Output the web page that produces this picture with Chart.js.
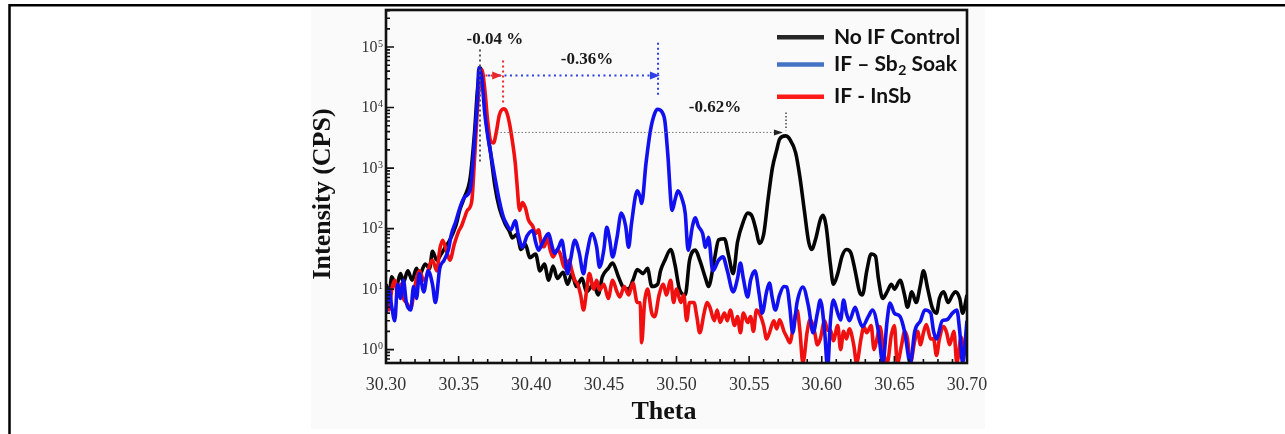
<!DOCTYPE html>
<html>
<head>
<meta charset="utf-8">
<script src="https://cdn.jsdelivr.net/npm/chart.js@4.4.1/dist/chart.umd.min.js"></script>
<style>
  html, body { margin: 0; padding: 0; background: #fff; }
  canvas { display: block; }
</style>
</head>
<body>
<canvas id="xrdChart" width="1285" height="434"></canvas>
<script>
// No IF Control (black)
const controlTheta = [30.300, 30.302, 30.304, 30.307, 30.310, 30.312, 30.315, 30.318, 30.321, 30.323,
  30.327, 30.330, 30.332, 30.335, 30.338, 30.341, 30.344, 30.348, 30.351, 30.354,
  30.358, 30.361, 30.363, 30.365, 30.367, 30.369, 30.372, 30.375, 30.378, 30.382,
  30.385, 30.387, 30.390, 30.393, 30.396, 30.399, 30.403, 30.406, 30.409, 30.412,
  30.415, 30.418, 30.422, 30.425, 30.428, 30.431, 30.435, 30.438, 30.443, 30.446,
  30.449, 30.453, 30.456, 30.460, 30.463, 30.467, 30.470, 30.473, 30.477, 30.480,
  30.483, 30.487, 30.489, 30.492, 30.496, 30.499, 30.502, 30.506, 30.509, 30.513,
  30.516, 30.520, 30.522, 30.526, 30.529, 30.533, 30.536, 30.539, 30.542, 30.546,
  30.549, 30.552, 30.555, 30.557, 30.560, 30.563, 30.566, 30.569, 30.571, 30.575,
  30.578, 30.582, 30.585, 30.588, 30.591, 30.593, 30.596, 30.599, 30.601, 30.603,
  30.606, 30.608, 30.611, 30.614, 30.617, 30.620, 30.623, 30.626, 30.628, 30.631,
  30.634, 30.637, 30.639, 30.642, 30.645, 30.648, 30.650, 30.654, 30.657, 30.659,
  30.662, 30.665, 30.668, 30.670, 30.673, 30.676, 30.679, 30.681, 30.684, 30.687,
  30.690, 30.692, 30.695, 30.697, 30.700];
const controlCps = [12, 8, 16, 11, 18, 13, 20, 14, 22, 17,
  26, 22, 42, 30, 38, 50, 65, 110, 210, 330,
  700, 4000, 20000, 45000, 25000, 6000, 1800, 500, 220, 120,
  90, 70, 80, 45, 55, 33, 38, 20, 26, 14,
  24, 15, 19, 12, 18, 11, 15, 9, 12, 8,
  16, 22, 27, 16, 11, 10, 14, 21, 18, 22,
  11, 12, 20, 30, 45, 25, 10, 8, 30, 44,
  30, 15, 11, 30, 65, 68, 35, 18, 60, 130,
  180, 160, 90, 57, 80, 300, 1000, 2000, 3000, 3400,
  3000, 1800, 700, 200, 60, 45, 70, 140, 165, 110,
  25, 12, 18, 35, 45, 40, 20, 9, 8, 20,
  38, 35, 15, 7, 9, 12, 10, 14, 8, 5,
  9, 6, 12, 20, 10, 5, 4, 7, 9, 6,
  8, 9, 7, 4, 8];

// IF – Sb2 Soak (blue)
const soakTheta = [30.300, 30.302, 30.304, 30.306, 30.308, 30.310, 30.312, 30.314, 30.317, 30.319,
  30.321, 30.323, 30.326, 30.329, 30.332, 30.334, 30.337, 30.340, 30.343, 30.345,
  30.348, 30.351, 30.354, 30.358, 30.361, 30.363, 30.364, 30.366, 30.368, 30.370,
  30.372, 30.375, 30.378, 30.381, 30.383, 30.386, 30.389, 30.391, 30.394, 30.397,
  30.401, 30.403, 30.405, 30.408, 30.412, 30.414, 30.416, 30.419, 30.421, 30.423,
  30.425, 30.427, 30.430, 30.433, 30.436, 30.438, 30.442, 30.445, 30.447, 30.450,
  30.452, 30.454, 30.456, 30.459, 30.462, 30.465, 30.467, 30.469, 30.473, 30.475,
  30.476, 30.479, 30.482, 30.485, 30.487, 30.490, 30.492, 30.494, 30.497, 30.499,
  30.501, 30.504, 30.506, 30.508, 30.511, 30.513, 30.515, 30.518, 30.520, 30.522,
  30.525, 30.529, 30.532, 30.535, 30.539, 30.542, 30.544, 30.546, 30.549, 30.551,
  30.554, 30.557, 30.559, 30.562, 30.564, 30.566, 30.568, 30.571, 30.574, 30.576,
  30.578, 30.580, 30.583, 30.587, 30.591, 30.594, 30.597, 30.599, 30.602, 30.604,
  30.606, 30.608, 30.611, 30.613, 30.615, 30.617, 30.619, 30.623, 30.626, 30.628,
  30.632, 30.635, 30.639, 30.642, 30.645, 30.647, 30.650, 30.654, 30.657, 30.661,
  30.664, 30.668, 30.671, 30.675, 30.677, 30.679, 30.683, 30.686, 30.690, 30.693,
  30.695, 30.697, 30.700];
const soakCps = [4, 10, 5, 3, 12, 7, 14, 6, 4.5, 11,
  7, 18, 9, 20, 12, 6, 22, 30, 45, 80,
  130, 225, 330, 450, 3000, 15000, 46000, 30000, 8000, 3500,
  1800, 700, 290, 150, 120, 95, 135, 80, 49, 75,
  93, 60, 44, 60, 83, 55, 39, 50, 64, 35,
  18, 30, 64, 40, 18, 35, 83, 50, 23, 45,
  105, 65, 34, 70, 180, 110, 49, 120, 420, 330,
  260, 1200, 4100, 8000, 9400, 8500, 6000, 1700, 200, 300,
  420, 300, 180, 44, 110, 150, 110, 83, 49, 72,
  20, 30, 34, 20, 9, 15, 27, 15, 7.4, 14,
  20, 8, 4, 9, 12.6, 7, 4.5, 8, 11, 10.8,
  5, 1.9, 6, 10.8, 5, 1.9, 4, 6.6, 2, 0.5,
  3, 6.6, 4, 3.1, 6.6, 4, 3, 5, 3, 2.4,
  3.5, 4.5, 2, 0.6, 3, 5.9, 4, 3.5, 2, 0.6,
  2, 3, 4.5, 4, 2, 1.5, 3, 3.1, 4, 4.5,
  2, 0.6, 3];

// IF - InSb (red)
const insbTheta = [30.300, 30.302, 30.304, 30.306, 30.308, 30.310, 30.312, 30.314, 30.317, 30.319,
  30.321, 30.323, 30.326, 30.328, 30.330, 30.332, 30.335, 30.337, 30.339, 30.342,
  30.344, 30.347, 30.350, 30.352, 30.354, 30.356, 30.359, 30.361, 30.363, 30.365,
  30.366, 30.368, 30.370, 30.372, 30.374, 30.376, 30.378, 30.381, 30.383, 30.385,
  30.387, 30.389, 30.390, 30.392, 30.394, 30.396, 30.398, 30.401, 30.403, 30.405,
  30.407, 30.409, 30.411, 30.413, 30.415, 30.418, 30.420, 30.422, 30.424, 30.426,
  30.428, 30.430, 30.432, 30.434, 30.436, 30.438, 30.440, 30.443, 30.445, 30.447,
  30.450, 30.453, 30.456, 30.459, 30.461, 30.464, 30.467, 30.470, 30.473, 30.475,
  30.476, 30.478, 30.480, 30.483, 30.485, 30.488, 30.491, 30.493, 30.496, 30.498,
  30.500, 30.503, 30.505, 30.507, 30.509, 30.512, 30.514, 30.516, 30.519, 30.521,
  30.523, 30.526, 30.528, 30.530, 30.533, 30.535, 30.537, 30.540, 30.542, 30.544,
  30.546, 30.549, 30.551, 30.553, 30.555, 30.557, 30.560, 30.562, 30.564, 30.567,
  30.569, 30.571, 30.574, 30.576, 30.578, 30.581, 30.583, 30.585, 30.587, 30.590,
  30.592, 30.595, 30.597, 30.599, 30.602, 30.604, 30.606, 30.608, 30.611, 30.613,
  30.615, 30.617, 30.619, 30.622, 30.624, 30.627, 30.629, 30.631, 30.634, 30.636,
  30.638, 30.640, 30.643, 30.645, 30.648, 30.650, 30.652, 30.655, 30.657, 30.659,
  30.661, 30.664, 30.666, 30.668, 30.670, 30.672, 30.675, 30.677, 30.679, 30.681,
  30.684, 30.686, 30.688, 30.691, 30.693, 30.696, 30.698, 30.700];
const insbCps = [6, 4.5, 10, 14, 8, 12, 7, 6, 4.8, 8,
  15, 20, 14, 16, 25, 30, 20, 45, 64, 40,
  30, 55, 90, 110, 150, 200, 280, 1500, 10000, 35000,
  42000, 20000, 6000, 2800, 2600, 4000, 7500, 9500, 8500, 5500,
  2800, 1200, 620, 200, 270, 220, 140, 110, 83, 95,
  55, 50, 72, 45, 34, 45, 38, 25, 22, 30,
  20, 14, 12, 8, 4.5, 9, 18, 10, 14, 9.7,
  12, 7, 14, 9, 7.4, 11, 8, 12.6, 6, 5.9,
  1.3, 6, 10, 4, 3.5, 8, 12, 8, 14, 6,
  10, 6, 8, 3, 6, 6, 3.5, 1.9, 4, 6,
  5, 3, 4.5, 2.8, 4, 3, 4.5, 2.5, 3.5, 1.9,
  4, 2.8, 3.5, 2, 4.5, 4, 2.5, 1.5, 1.9, 3,
  2.2, 3.1, 2, 1.6, 1.3, 3, 4.5, 2, 0.6, 2,
  3.1, 2, 1.2, 1.5, 3, 2.1, 2.1, 1.4, 2.5, 1,
  2, 1.5, 2.2, 1.2, 0.6, 1.5, 2.4, 1.9, 2.5, 1,
  1.5, 2.4, 0.8, 0.6, 1.8, 2.5, 0.6, 1.2, 2, 1.5,
  0.6, 1.4, 2, 1.2, 1.9, 2.6, 1.5, 1.5, 0.8, 1.5,
  2.4, 1.9, 1.2, 2, 0.6, 1.6, 0.9, 1.5];

const xTicks = [30.30, 30.35, 30.40, 30.45, 30.50, 30.55, 30.60, 30.65, 30.70];
const yDecades = [1, 10, 100, 1000, 10000, 100000];
const seriesNames = ['No IF Control', 'IF – Sb₂ Soak', 'IF - InSb'];
const shiftLabels = ['-0.04 %', '-0.36%', '-0.62%'];

const toPoints = (xs, ys) => xs.map((x, i) => ({ x: x, y: ys[i] }));

function dotted(ctx, x1, y1, x2, y2, color, width, dash) {
    ctx.save();
    ctx.strokeStyle = color;
    ctx.lineWidth = width;
    ctx.setLineDash(dash);
    ctx.beginPath();
    ctx.moveTo(x1, y1);
    ctx.lineTo(x2, y2);
    ctx.stroke();
    ctx.restore();
}

function arrowHead(ctx, x, y, color, len, half) {
    ctx.save();
    ctx.fillStyle = color;
    ctx.beginPath();
    ctx.moveTo(x, y);
    ctx.lineTo(x - len, y - half);
    ctx.lineTo(x - len, y + half);
    ctx.closePath();
    ctx.fill();
    ctx.restore();
}

const decorations = {
    id: 'decorations',
    beforeDraw(chart) {
        const ctx = chart.ctx;
        ctx.save();
        ctx.fillStyle = '#fafafa';
        ctx.fillRect(311, 8, 674, 421);
        ctx.strokeStyle = '#000';
        ctx.lineWidth = 2.5;
        ctx.beginPath();
        ctx.moveTo(9.5, 434);
        ctx.lineTo(9.5, 5.3);
        ctx.lineTo(1285, 5.3);
        ctx.stroke();
        ctx.restore();
    },
    afterDatasetsDraw(chart) {
        const ctx = chart.ctx;
        const a = chart.chartArea;
        const xs = chart.scales.x;
        const ys = chart.scales.y;
        const px = v => xs.getPixelForValue(v);
        const py = v => ys.getPixelForValue(v);

        ctx.save();
        // plot frame
        ctx.strokeStyle = '#111';
        ctx.lineWidth = 2.6;
        ctx.strokeRect(a.left, a.top, a.right - a.left, a.bottom - a.top);

        // inward tick marks
        ctx.lineWidth = 1.6;
        ctx.beginPath();
        for (let i = 0; i <= 40; i++) {
            const x = px(30.30 + i * 0.01);
            const len = i % 5 === 0 ? 7 : 4;
            ctx.moveTo(x, a.bottom);
            ctx.lineTo(x, a.bottom - len);
        }
        for (let e = -1; e <= 5; e++) {
            for (let d = 1; d <= 9; d++) {
                const v = d * Math.pow(10, e);
                if (v < ys.min || v > ys.max) continue;
                const y = py(v);
                const len = d === 1 ? 8 : 4;
                ctx.moveTo(a.left, y);
                ctx.lineTo(a.left + len, y);
            }
        }
        ctx.stroke();

        // y tick labels (10 with superscript exponent)
        ctx.fillStyle = '#333';
        yDecades.forEach(v => {
            const y = py(v);
            const exp = String(Math.round(Math.log10(v)));
            ctx.font = '10px "Liberation Serif"';
            ctx.textAlign = 'right';
            ctx.textBaseline = 'alphabetic';
            const ew = ctx.measureText(exp).width;
            ctx.fillText(exp, a.left - 3, y - 0.5);
            ctx.font = '16px "Liberation Serif"';
            ctx.textBaseline = 'middle';
            ctx.fillText('10', a.left - 3.5 - ew, y + 0.5);
        });

        // axis titles
        ctx.fillStyle = '#111';
        ctx.font = 'bold 26px "Liberation Serif"';
        ctx.textAlign = 'center';
        ctx.textBaseline = 'middle';
        ctx.fillText('Theta', 664, 412);
        ctx.save();
        ctx.translate(323, 194);
        ctx.rotate(-Math.PI / 2);
        ctx.fillText('Intensity (CPS)', 0, 0);
        ctx.restore();

        // peak shift markers
        const blueDot = '#3040e8', redDot = '#e82828', greyDot = '#555';
        dotted(ctx, px(30.3647), py(9.1e4), px(30.3647), py(1240), greyDot, 2, [2, 3]);
        dotted(ctx, px(30.3806), py(6.0e4), px(30.3806), py(1.12e4), redDot, 2, [2, 3]);
        dotted(ctx, px(30.3702), py(3.38e4), px(30.4870), py(3.38e4), blueDot, 2, [2, 3.5]);
        arrowHead(ctx, px(30.4886), py(3.38e4), blueDot, 10, 4);
        dotted(ctx, px(30.3685), py(3.38e4), px(30.3740), py(3.38e4), redDot, 2, [2, 3]);
        arrowHead(ctx, px(30.3800), py(3.38e4), redDot, 10, 4);
        dotted(ctx, px(30.4873), py(1.18e5), px(30.4873), py(1.52e4), blueDot, 2, [2, 3]);
        dotted(ctx, px(30.3764), py(3880), px(30.5700), py(3880), '#777', 1, [1.5, 2]);
        arrowHead(ctx, px(30.5733), py(3880), '#222', 9, 3);
        dotted(ctx, px(30.5754), py(8300), px(30.5754), py(4200), '#444', 1.5, [1.5, 2]);

        ctx.fillStyle = '#1a1a1a';
        ctx.font = 'bold 17px "Liberation Serif"';
        ctx.textAlign = 'center';
        ctx.fillText(shiftLabels[0], px(30.375), py(1.33e5));
        ctx.fillText(shiftLabels[1], px(30.4384), py(6.2e4));
        ctx.fillText(shiftLabels[2], px(30.5265), py(1.0e4));

        // legend
        const legendColors = ['#262626', '#4472c4', '#ff1a1a'];
        const rows = [37.3, 64.5, 96.7];
        ctx.font = 'bold 21px Lato';
        ctx.textAlign = 'left';
        ctx.textBaseline = 'middle';
        rows.forEach((y, i) => {
            ctx.strokeStyle = legendColors[i];
            ctx.lineWidth = 4.5;
            ctx.setLineDash([]);
            ctx.beginPath();
            ctx.moveTo(777, y);
            ctx.lineTo(824, y);
            ctx.stroke();
        });
        ctx.fillStyle = '#111';
        ctx.fillText(seriesNames[0], 834, rows[0]);
        ctx.fillText(seriesNames[2], 834, rows[2]);
        // "IF – Sb₂ Soak" with a real subscript
        const [pre, post] = seriesNames[1].split('₂');
        let tx = 834;
        ctx.fillText(pre, tx, rows[1]);
        tx += ctx.measureText(pre).width + 0.5;
        ctx.font = 'bold 14px Lato';
        ctx.fillText('2', tx, rows[1] + 6);
        tx += ctx.measureText('2').width;
        ctx.font = 'bold 21px Lato';
        ctx.fillText(post, tx, rows[1]);
        ctx.restore();
    }
};

const lineStyle = {
    borderWidth: 3.6,
    pointRadius: 0,
    fill: false,
    cubicInterpolationMode: 'monotone'
};

new Chart(document.getElementById('xrdChart').getContext('2d'), {
    type: 'line',
    data: {
        datasets: [{
            label: seriesNames[1],
            data: toPoints(soakTheta, soakCps),
            borderColor: '#1010f0',
            ...lineStyle
        }, {
            label: seriesNames[2],
            data: toPoints(insbTheta, insbCps),
            borderColor: '#f01010',
            ...lineStyle
        }, {
            label: seriesNames[0],
            data: toPoints(controlTheta, controlCps),
            borderColor: '#050505',
            ...lineStyle
        }]
    },
    options: {
        responsive: false,
        animation: false,
        devicePixelRatio: 1,
        layout: { padding: { left: 305, right: 318, top: 10, bottom: 0 } },
        plugins: {
            legend: { display: false },
            tooltip: { enabled: false }
        },
        scales: {
            x: {
                type: 'linear',
                min: 30.30,
                max: 30.70,
                afterBuildTicks: scale => { scale.ticks = xTicks.map(v => ({ value: v })); },
                afterFit: scale => { scale.height = 71; },
                grid: { display: false, drawTicks: false },
                border: { display: false },
                ticks: {
                    padding: 11,
                    maxRotation: 0,
                    color: '#333',
                    font: { family: '"Liberation Serif"', size: 18 },
                    callback: v => Number(v).toFixed(2)
                }
            },
            y: {
                type: 'logarithmic',
                min: 0.62,
                max: 4.1e5,
                afterBuildTicks: scale => { scale.ticks = yDecades.map(v => ({ value: v })); },
                afterFit: scale => { scale.width = 81; },
                grid: { display: false, drawTicks: false },
                border: { display: false },
                ticks: { display: false }
            }
        }
    },
    plugins: [decorations]
});
</script>
</body>
</html>
